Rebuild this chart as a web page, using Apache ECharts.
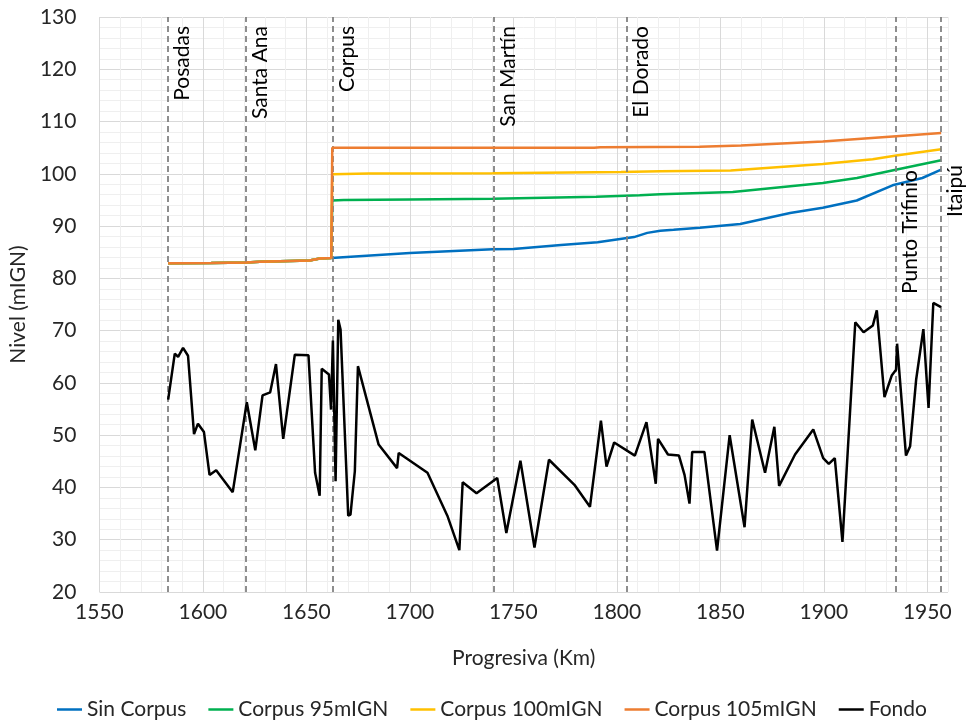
<!DOCTYPE html>
<html><head><meta charset="utf-8">
<script src="https://cdn.jsdelivr.net/npm/echarts@6/dist/echarts.min.js"></script>
<style>html,body{margin:0;padding:0;background:#fff}#c{width:973px;height:722px}</style>
</head><body><div id="c"></div>
<script>
// ---------- DATA ----------
const seriesNames = ['Sin Corpus', 'Corpus 95mIGN', 'Corpus 100mIGN', 'Corpus 105mIGN', 'Fondo'];
const xTickLabels = [1550, 1600, 1650, 1700, 1750, 1800, 1850, 1900, 1950];
const yTickLabels = [20, 30, 40, 50, 60, 70, 80, 90, 100, 110, 120, 130];

// common water level upstream of Corpus (all scenarios coincide)
const preCorpusKm    = [1583.2, 1604, 1621, 1627.5, 1651.5, 1656.5, 1662.0];
const preCorpusLevel = [82.9, 82.95, 83.05, 83.2, 83.4, 83.8, 83.9];

const sinCorpusKm    = [1662.5, 1700, 1740, 1750, 1773, 1790.7, 1808.3, 1814.7, 1821, 1827.4, 1840, 1859.6, 1883.7, 1899.5, 1915.9, 1933.2, 1947.6, 1956.7];
const sinCorpusLevel = [84.0, 84.85, 85.55, 85.6, 86.4, 86.9, 87.9, 88.7, 89.1, 89.3, 89.7, 90.4, 92.5, 93.5, 94.9, 97.8, 99.2, 100.8];

const corpus95Km    = [1662.5, 1662.5, 1668, 1700, 1740, 1790, 1811, 1821, 1856, 1899.5, 1916, 1933, 1956.7];
const corpus95Level = [84.0, 94.9, 95.0, 95.1, 95.25, 95.6, 95.9, 96.1, 96.5, 98.25, 99.2, 100.65, 102.6];

const corpus100Km    = [1662.5, 1662.5, 1680, 1740, 1802, 1821, 1855, 1899.5, 1923.6, 1935, 1956.7];
const corpus100Level = [84.0, 99.9, 100.05, 100.1, 100.35, 100.5, 100.65, 101.9, 102.8, 103.5, 104.7];

const corpus105Km    = [1662.5, 1662.5, 1789, 1792, 1840, 1860, 1899.5, 1935, 1956.7];
const corpus105Level = [84.0, 105.0, 105.0, 105.1, 105.2, 105.4, 106.2, 107.2, 107.8];

const fondoKm = [1583.2, 1586.4, 1588.0, 1590.4, 1592.8, 1595.7, 1597.6, 1600.5, 1603.2, 1606.4, 1614.4, 1621.2, 1625.3, 1628.8, 1632.5, 1635.3, 1638.8, 1644.4, 1651.0, 1654.2, 1656.4, 1657.4, 1660.9, 1661.9, 1662.8, 1664.1, 1665.4, 1666.5, 1670.2, 1671.3, 1673.4, 1674.9, 1684.9, 1693.8, 1694.6, 1708.5, 1718.1, 1723.9, 1725.5, 1732.2, 1742.2, 1746.6, 1753.4, 1760.2, 1767.2, 1779.5, 1787.0, 1792.3, 1795.0, 1798.7, 1808.7, 1814.3, 1818.8, 1819.9, 1824.7, 1830.0, 1832.7, 1835.1, 1836.4, 1842.3, 1848.4, 1854.5, 1861.7, 1865.4, 1871.6, 1876.1, 1878.4, 1886.1, 1894.9, 1899.7, 1902.4, 1905.3, 1909.0, 1915.2, 1919.2, 1923.7, 1925.6, 1929.3, 1932.8, 1934.9, 1935.4, 1939.7, 1941.7, 1944.6, 1948.1, 1950.6, 1952.9, 1956.6];
const fondoLevel = [56.8, 65.6, 65.0, 66.7, 65.2, 50.2, 52.2, 50.6, 42.4, 43.3, 39.1, 56.3, 47.1, 57.6, 58.2, 63.6, 49.3, 65.4, 65.3, 42.8, 38.4, 62.7, 61.6, 54.9, 68.1, 41.2, 72.1, 70.2, 34.6, 34.8, 43.1, 63.2, 48.2, 43.7, 46.6, 42.8, 34.6, 28.0, 41.0, 38.9, 41.8, 31.3, 45.1, 28.5, 45.3, 40.5, 36.3, 52.8, 44.0, 48.6, 46.1, 52.5, 40.7, 49.3, 46.3, 46.1, 42.4, 36.9, 46.8, 46.8, 27.9, 50.0, 32.4, 53.0, 42.8, 51.6, 40.3, 46.3, 51.1, 45.6, 44.5, 45.6, 29.6, 71.6, 69.7, 71.0, 73.9, 57.3, 61.4, 62.5, 67.5, 46.1, 47.9, 60.6, 70.3, 55.2, 75.3, 74.5];

const placeNames = ['Posadas', 'Santa Ana', 'Corpus', 'San Martín', 'El Dorado', 'Punto Trifinio', 'Itaipú'];
const placeKm    = [1583.2, 1620.8, 1662.5, 1740.4, 1804.8, 1934.9, 1956.6];

// ---------- BUILD ----------
const FONT = 'Lato';
const TXT = '#262626';
const FS = 21;
const colors = ['#0070C0', '#00B050', '#FFC000', '#ED7D31', '#000000'];
const pairs = (k, v) => k.map((x, i) => [x, v[i]]);
const withPre = (k, v) => pairs(preCorpusKm, preCorpusLevel).concat(pairs(k, v));

const seriesData = [
  withPre(sinCorpusKm, sinCorpusLevel),
  withPre(corpus95Km, corpus95Level),
  withPre(corpus100Km, corpus100Level),
  withPre(corpus105Km, corpus105Level),
  pairs(fondoKm, fondoLevel)
];

const yMin = 20, yMax = 130;
const labelShift = { 'Punto Trifinio': 153, 'Itaipú': 148 };

const markData = placeNames.map((n, i) => [
  { coord: [placeKm[i], yMin], name: n,
    label: { distance: [labelShift[n] || 9, 4] } },
  { coord: [placeKm[i], yMax] }
]);

const gridColors = ['#d9d9d9', '#efefef', '#efefef', '#efefef', '#efefef'];

const option = {
  animation: false,
  backgroundColor: '#fff',
  textStyle: { fontFamily: FONT },
  grid: { left: 96, right: 25, top: 17, bottom: 130, containLabel: false },
  legend: {
    data: seriesNames.map((n, i) => ({ name: n, icon: 'rect', itemStyle: { color: colors[i] } })),
    top: 699, left: 57, padding: 0,
    itemWidth: 25, itemHeight: 2.5, itemGap: 22,
    textStyle: { fontSize: FS, color: TXT, fontFamily: FONT }
  },
  xAxis: {
    type: 'value', min: 1550, max: 1960, interval: 10,
    name: 'Progresiva (Km)', nameLocation: 'middle', nameGap: 56,
    nameTextStyle: { fontSize: FS, color: TXT, fontFamily: FONT },
    axisLine: { show: false }, axisTick: { show: false },
    axisLabel: { margin: 10, fontSize: FS, color: TXT, fontFamily: FONT,
      formatter: v => xTickLabels.indexOf(Math.round(v)) >= 0 ? String(Math.round(v)) : '' },
    splitLine: { show: true, lineStyle: { color: gridColors, width: 1 } }
  },
  yAxis: {
    type: 'value', min: yMin, max: yMax, interval: 2,
    name: 'Nivel (mIGN)', nameLocation: 'middle', nameGap: 55,
    nameTextStyle: { fontSize: FS, color: TXT, fontFamily: FONT },
    axisLine: { show: false }, axisTick: { show: false },
    axisLabel: { margin: 23, fontSize: FS, color: TXT, fontFamily: FONT,
      formatter: v => yTickLabels.indexOf(Math.round(v)) >= 0 ? String(Math.round(v)) : '' },
    splitLine: { show: true, lineStyle: { color: gridColors, width: 1 } }
  },
  series: [
    {
      name: 'lugares', type: 'line', data: [], silent: true, z: 1,
      markLine: {
        silent: true, symbol: ['none', 'none'], animation: false,
        lineStyle: { color: '#7f7f7f', width: 1.75, type: [6, 4] },
        label: { show: true, position: 'insideEndBottom', formatter: p => p.name,
          fontSize: FS, color: '#000', fontFamily: FONT },
        emphasis: { disabled: true },
        data: markData
      }
    }
  ].concat(seriesNames.map((n, i) => ({
    name: n, type: 'line', data: seriesData[i], symbol: 'none', showSymbol: false,
    z: 2 + i, color: colors[i],
    lineStyle: { color: colors[i], width: 2.5 },
    emphasis: { disabled: true }
  })))
};

const chart = echarts.init(document.getElementById('c'), null, { renderer: 'canvas' });
chart.setOption(option);
</script>
</body></html>
